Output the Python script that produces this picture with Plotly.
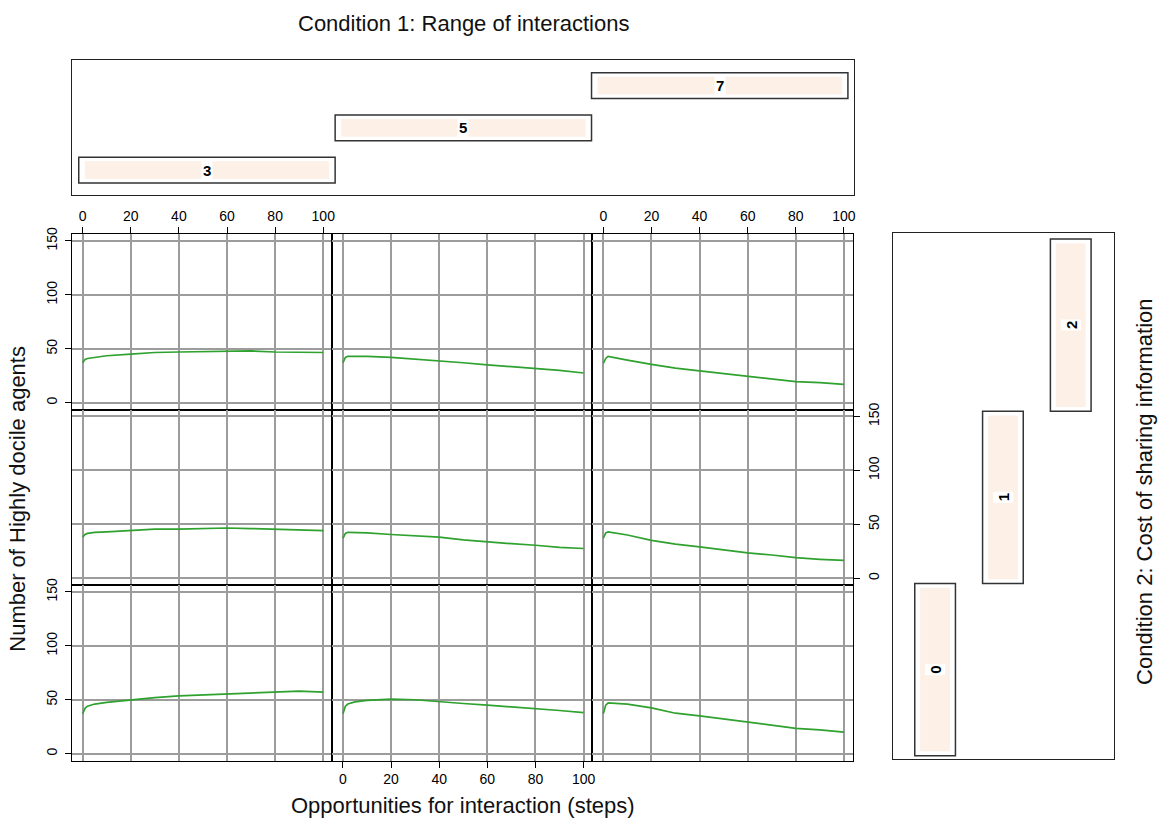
import plotly.graph_objects as go

# ---- data -------------------------------------------------------------
steps = [0, 1, 2, 5, 10, 20, 30, 40, 50, 60, 70, 80, 90, 100]

range_levels = ["3", "5", "7"]      # Condition 1: range of interactions
cost_levels = ["0", "1", "2"]       # Condition 2: cost of sharing information

# number of highly docile agents per step, one list per (cost, range) cell
docile_c2_r3 = [37, 40, 41, 42, 43.5, 45, 46.5, 47, 47.5, 48, 48, 47, 46.5, 46.5]
docile_c2_r5 = [37, 42, 43, 43, 43, 42, 40.5, 39, 37, 35, 33.5, 32, 30, 27.5]
docile_c2_r7 = [36.5, 41, 43, 41.5, 39.5, 35.5, 32, 29.5, 27, 24, 21.5, 19.5, 18.5, 17]
docile_c1_r3 = [38, 40.5, 41.5, 42.5, 43, 44.5, 45.5, 45.5, 46, 46.5, 46, 45.5, 45, 44]
docile_c1_r5 = [37, 41.5, 42.5, 42.5, 42, 40.5, 39.5, 38, 35.5, 33.5, 32, 30.5, 28.5, 27.5]
docile_c1_r7 = [37, 42, 43, 42, 40, 35, 31.5, 29, 26, 23.5, 21.5, 19, 17.5, 16.5]
docile_c0_r3 = [37, 42, 44, 46, 47.5, 50, 52, 53.5, 54.5, 55.5, 56.5, 57, 58, 57]
docile_c0_r5 = [37, 44, 46, 48, 49.5, 50.5, 50, 48, 46.5, 45, 43.5, 42, 40, 38]
docile_c0_r7 = [37, 45, 47, 46.5, 46, 42.5, 37.5, 35, 32, 29, 26.5, 23.5, 22, 20]

x_ticks = [0, 20, 40, 60, 80, 100]
y_ticks = [0, 50, 100, 150]

# rows top -> bottom are cost 2, 1, 0 ; columns are range 3, 5, 7
panel_rows = [
    [docile_c2_r3, docile_c2_r5, docile_c2_r7],
    [docile_c1_r3, docile_c1_r5, docile_c1_r7],
    [docile_c0_r3, docile_c0_r5, docile_c0_r7],
]

# ---- page geometry (pixels) --------------------------------------------
W, H = 1175, 824
FONT = "Liberation Sans, Arial, sans-serif"
LINE_GREEN = "#2ea12e"
GRID = "#9c9c9c"
PEACH = "#fdf0e7"


def xdom(a, b):
    return [a / W, b / W]


def ydom(top, bottom):
    return [1 - bottom / H, 1 - top / H]


col_px = [(72, 333), (333, 594), (594, 855)]
row_px = [(229, 406), (406, 583), (583, 760)]

fig = go.Figure()
layout = {}
tick_font = dict(family=FONT, size=14, color="black")

k = 0
for r in range(3):
    for c in range(3):
        k += 1
        xa = "x" if k == 1 else f"x{k}"
        ya = "y" if k == 1 else f"y{k}"
        fig.add_trace(go.Scatter(
            x=steps, y=panel_rows[r][c], mode="lines",
            line=dict(color=LINE_GREEN, width=1.7),
            xaxis=xa, yaxis=ya, showlegend=False, hoverinfo="skip",
        ))

        # lattice-style alternating axes
        show_x = (r == 0 and c in (0, 2)) or (r == 2 and c == 1)
        x_side = "top" if r == 0 else "bottom"
        show_y = (c == 0 and r in (0, 2)) or (c == 2 and r == 1)
        y_side = "left" if c == 0 else "right"

        layout[f"xaxis{k}"] = dict(
            domain=xdom(*col_px[c]), anchor=ya,
            range=[-4.5, 103.7], tickvals=x_ticks,
            showgrid=True, gridcolor=GRID, gridwidth=1.5,
            zeroline=False, showline=True, mirror=True,
            linecolor="black", linewidth=1,
            side=x_side, ticks="outside" if show_x else "",
            ticklen=6, tickwidth=1.2, tickcolor="black",
            showticklabels=show_x, ticklabelstandoff=0,
            tickfont=tick_font,
        )
        layout[f"yaxis{k}"] = dict(
            domain=ydom(*row_px[r]), anchor=xa,
            range=[-6.4, 156.4], tickvals=y_ticks,
            showgrid=True, gridcolor=GRID, gridwidth=1.5,
            zeroline=False, showline=True, mirror=True,
            linecolor="black", linewidth=1,
            side=y_side, ticks="outside" if show_y else "",
            ticklen=6, tickwidth=1.2, tickcolor="black",
            showticklabels=show_y, tickangle=-90, ticklabelstandoff=2,
            tickfont=tick_font,
        )

# ---- condition 1 strip: horizontal bars, one per range level ----------
r_pos = [i + 1 for i in range(len(range_levels))]
fig.add_trace(go.Bar(
    orientation="h", y=r_pos, x=[1] * len(r_pos), base=[p - 0.5 for p in r_pos],
    width=0.61, marker=dict(color="white", line=dict(color="#333", width=1.5)),
    xaxis="x10", yaxis="y10", showlegend=False, hoverinfo="skip",
))
fig.add_trace(go.Bar(
    orientation="h", y=r_pos, x=[0.953] * len(r_pos), base=[p - 0.4765 for p in r_pos],
    width=0.42, marker=dict(color=PEACH, line=dict(width=0)),
    xaxis="x10", yaxis="y10", showlegend=False, hoverinfo="skip",
))
layout["xaxis10"] = dict(domain=xdom(72, 856), anchor="y10", range=[0.473, 3.523],
                         showgrid=False, zeroline=False, showticklabels=False, ticks="",
                         showline=True, mirror=True, linecolor="#222", linewidth=1.4)
layout["yaxis10"] = dict(domain=ydom(53, 190), anchor="x10", range=[0.4, 3.62],
                         showgrid=False, zeroline=False, showticklabels=False, ticks="",
                         showline=True, mirror=True, linecolor="#222", linewidth=1.4)

# ---- condition 2 strip: vertical bars, one per cost level -------------
c_pos = [i + 1 for i in range(len(cost_levels))]
fig.add_trace(go.Bar(
    x=c_pos, y=[1] * len(c_pos), base=[p - 1 for p in c_pos],
    width=0.6, marker=dict(color="white", line=dict(color="#333", width=1.5)),
    xaxis="x11", yaxis="y11", showlegend=False, hoverinfo="skip",
))
fig.add_trace(go.Bar(
    x=c_pos, y=[0.95] * len(c_pos), base=[p - 1 + 0.025 for p in c_pos],
    width=0.44, marker=dict(color=PEACH, line=dict(width=0)),
    xaxis="x11", yaxis="y11", showlegend=False, hoverinfo="skip",
))
layout["xaxis11"] = dict(domain=xdom(895, 1117), anchor="y11", range=[0.375, 3.64],
                         showgrid=False, zeroline=False, showticklabels=False, ticks="",
                         showline=True, mirror=True, linecolor="#222", linewidth=1.4)
layout["yaxis11"] = dict(domain=ydom(228, 758), anchor="x11", range=[-0.017, 3.035],
                         showgrid=False, zeroline=False, showticklabels=False, ticks="",
                         showline=True, mirror=True, linecolor="#222", linewidth=1.4)

strip_font = dict(family=FONT, size=15, color="black", weight="bold")
annotations = []
for p, lab in zip(r_pos, range_levels):
    annotations.append(dict(x=p, y=p, xref="x10", yref="y10", text=lab, showarrow=False,
                            xanchor="center", yanchor="middle",
                            bgcolor="white", borderpad=1, font=strip_font))
for p, lab in zip(c_pos, cost_levels):
    annotations.append(dict(x=p, y=p - 0.5, xref="x11", yref="y11", text=lab, showarrow=False,
                            xanchor="center", yanchor="middle", textangle=-90,
                            bgcolor="white", borderpad=1, font=strip_font))

# ---- titles ------------------------------------------------------------
title_font = dict(family=FONT, size=22, color="#111")


def title(text, px, py, angle=0):
    return dict(x=px / W, y=1 - py / H, xref="paper", yref="paper", text=text,
                showarrow=False, xanchor="center", yanchor="middle",
                textangle=angle, font=title_font)


annotations += [
    title("Condition 1: Range of interactions", 464.5, 17),
    title("Opportunities for interaction (steps)", 464.5, 805),
    title("Number of Highly docile agents", 18, 496, -90),
    title("Condition 2: Cost of sharing information", 1148, 489, -90),
]

fig.update_layout(
    width=W, height=H, margin=dict(l=0, r=0, t=0, b=0),
    paper_bgcolor="white", plot_bgcolor="white",
    barmode="overlay", showlegend=False,
    annotations=annotations, **layout,
)

fig.write_html("out.html")
